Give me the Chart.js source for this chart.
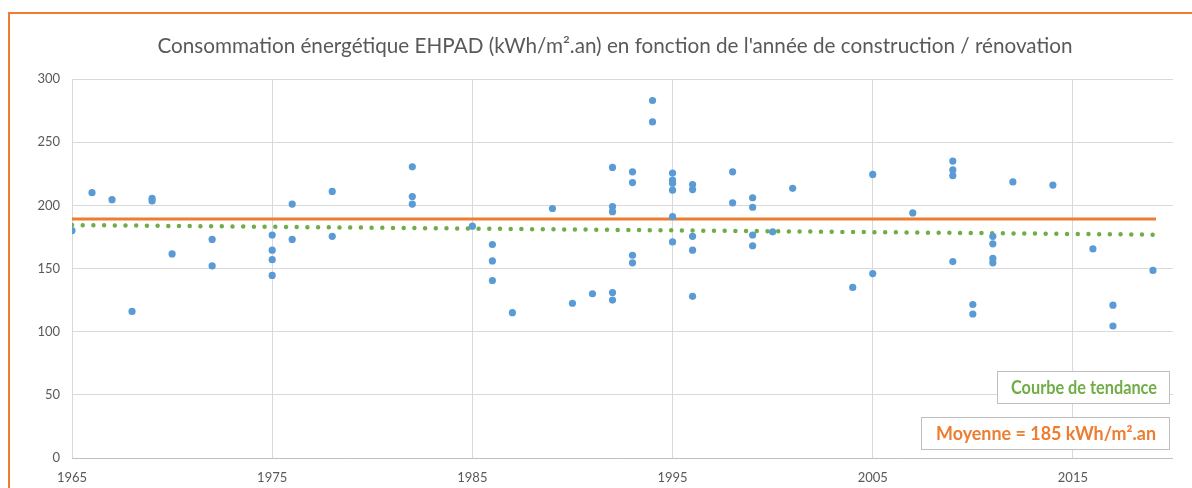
<!DOCTYPE html>
<html>
<head>
<meta charset="utf-8">
<script src="https://cdn.jsdelivr.net/npm/chart.js@4"></script>
<style>
  html, body { margin: 0; padding: 0; background: #fff; }
  #wrap { position: relative; width: 1192px; height: 488px; }
</style>
</head>
<body>
<div id="wrap"><canvas id="chart" width="1192" height="488"></canvas></div>
<script>
// année de construction / rénovation et consommation (kWh/m².an)
const years = [
  1965, 1966, 1967, 1968, 1969, 1969, 1970, 1972, 1972,
  1975, 1975, 1975, 1975, 1976, 1976, 1978, 1978,
  1982, 1982, 1982, 1985, 1986, 1986, 1986, 1987, 1989, 1990, 1991,
  1992, 1992, 1992, 1992, 1992, 1993, 1993, 1993, 1993, 1994, 1994,
  1995, 1995, 1995, 1995, 1995, 1995, 1996, 1996, 1996, 1996, 1996,
  1998, 1998, 1999, 1999, 1999, 1999, 2000, 2001, 2004, 2005, 2005,
  2007, 2009, 2009, 2009, 2009, 2010, 2010, 2011, 2011, 2011, 2011,
  2012, 2014, 2016, 2017, 2017, 2019
];
const conso = [
  180, 210, 204.5, 116, 205.5, 203.5, 161.5, 173, 152,
  176.5, 164.5, 157, 144.5, 201, 173, 211, 175.5,
  230.5, 207, 201, 183.5, 169, 156, 140.5, 115, 197.5, 122.5, 130,
  230, 199, 195, 131, 125, 226.5, 218, 160.5, 154.5, 283, 266,
  225.5, 220, 217.5, 212, 191, 171, 216.5, 212.5, 175.5, 164.5, 128,
  226.5, 202, 206, 198.5, 176.5, 168, 179, 213.5, 135, 224.5, 146,
  194, 235, 228, 223.5, 155.5, 121.5, 114, 175.5, 169.5, 158, 154.5,
  218.5, 216, 165.5, 121, 104.5, 148.5
];

// ligne de moyenne et courbe de tendance (extrémités)
const moyenneX = [1965, 2019.15];
const moyenneY = [189.2, 189.2];
const tendanceX = [1965, 2019];
const tendanceY = [184.4, 176.8];

const yTicks = [0, 50, 100, 150, 200, 250, 300];
const xTicks = [1965, 1975, 1985, 1995, 2005, 2015];

const titre = "Consommation énergétique EHPAD (kWh/m².an) en fonction de l'année de construction / rénovation";
const labelTendance = 'Courbe de tendance';
const labelMoyenne = 'Moyenne = 185 kWh/m².an';

const points = years.map((x, i) => ({ x: x, y: conso[i] }));
const moyenne = moyenneX.map((x, i) => ({ x: x, y: moyenneY[i] }));
const tendance = tendanceX.map((x, i) => ({ x: x, y: tendanceY[i] }));

const txtColor = '#595959';
const orange = '#ED7D31';
const vert = '#70AD47';
const bleu = '#5B9BD5';

// texte tassé horizontalement pour imiter Calibri
function drawFitted(ctx, text, cx, cy, maxW) {
  const w = ctx.measureText(text).width;
  const sx = w > maxW ? maxW / w : 1;
  ctx.save();
  ctx.translate(cx, cy);
  ctx.scale(sx, 1);
  ctx.textAlign = 'center';
  ctx.textBaseline = 'middle';
  ctx.fillText(text, 0, 0);
  ctx.restore();
}

const decor = {
  id: 'decor',
  beforeDraw(chart) {
    const ctx = chart.ctx;
    ctx.save();
    ctx.fillStyle = '#fff';
    ctx.fillRect(0, 0, chart.width, chart.height);
    // cadre orange
    ctx.strokeStyle = orange;
    ctx.lineWidth = 2;
    ctx.beginPath();
    ctx.moveTo(9, chart.height);
    ctx.lineTo(9, 13);
    ctx.lineTo(chart.width, 13);
    ctx.stroke();
    // titre
    ctx.fillStyle = txtColor;
    ctx.font = '400 21px Lato';
    drawFitted(ctx, titre, 615, 46, 915);
    ctx.restore();
  },
  afterDraw(chart) {
    const ctx = chart.ctx;
    const a = chart.chartArea;
    ctx.save();
    const boxes = [
      { t: labelTendance, c: vert, x: a.right - 176, y: a.bottom - 87, w: 172, h: 32, tw: 146 },
      { t: labelMoyenne, c: orange, x: a.right - 252, y: a.bottom - 41, w: 248, h: 32, tw: 220 }
    ];
    boxes.forEach(b => {
      ctx.fillStyle = '#fff';
      ctx.fillRect(b.x, b.y, b.w, b.h);
      ctx.strokeStyle = '#bfbfbf';
      ctx.lineWidth = 1;
      ctx.strokeRect(b.x + 0.5, b.y + 0.5, b.w, b.h);
      ctx.fillStyle = b.c;
      ctx.font = 'bold 18px Lato';
      drawFitted(ctx, b.t, b.x + b.w / 2 + 1, b.y + b.h / 2 + 1, b.tw);
    });
    ctx.restore();
  }
};

new Chart(document.getElementById('chart'), {
  type: 'scatter',
  data: {
    datasets: [
      {
        label: 'EHPAD',
        data: points,
        backgroundColor: bleu,
        borderColor: bleu,
        pointRadius: 3.6,
        pointBorderWidth: 0,
        order: 0
      },
      {
        type: 'line',
        label: labelMoyenne,
        data: moyenne,
        borderColor: orange,
        borderWidth: 3,
        pointRadius: 0,
        order: 2
      },
      {
        type: 'line',
        label: labelTendance,
        data: tendance,
        borderColor: vert,
        borderWidth: 4.5,
        borderDash: [0, 10.7],
        borderCapStyle: 'round',
        pointRadius: 0,
        order: 1
      }
    ]
  },
  options: {
    responsive: false,
    animation: false,
    layout: { padding: { left: 0, right: 19, top: 79, bottom: 0 } },
    plugins: {
      legend: { display: false },
      tooltip: { enabled: false },
      title: { display: false }
    },
    scales: {
      x: {
        type: 'linear',
        min: 1965,
        max: 2020,
        afterBuildTicks: (scale) => { scale.ticks = xTicks.map(v => ({ value: v })); },
        afterFit: (scale) => { scale.height = 30; },
        grid: {
          color: '#d9d9d9',
          drawTicks: false
        },
        border: { display: false },
        ticks: {
          color: txtColor,
          font: { family: 'Lato', size: 13 },
          padding: 12,
          maxRotation: 0,
          callback: (v) => String(v)
        }
      },
      y: {
        min: 0,
        max: 300,
        afterBuildTicks: (scale) => { scale.ticks = yTicks.map(v => ({ value: v })); },
        afterFit: (scale) => { scale.width = 72; },
        grid: {
          color: (c) => c.tick && c.tick.value === 0 ? '#bfbfbf' : '#d9d9d9',
          drawTicks: false
        },
        border: { display: false },
        ticks: {
          color: txtColor,
          font: { family: 'Lato', size: 13 },
          padding: 12
        }
      }
    }
  },
  plugins: [decor]
});
</script>
</body>
</html>
